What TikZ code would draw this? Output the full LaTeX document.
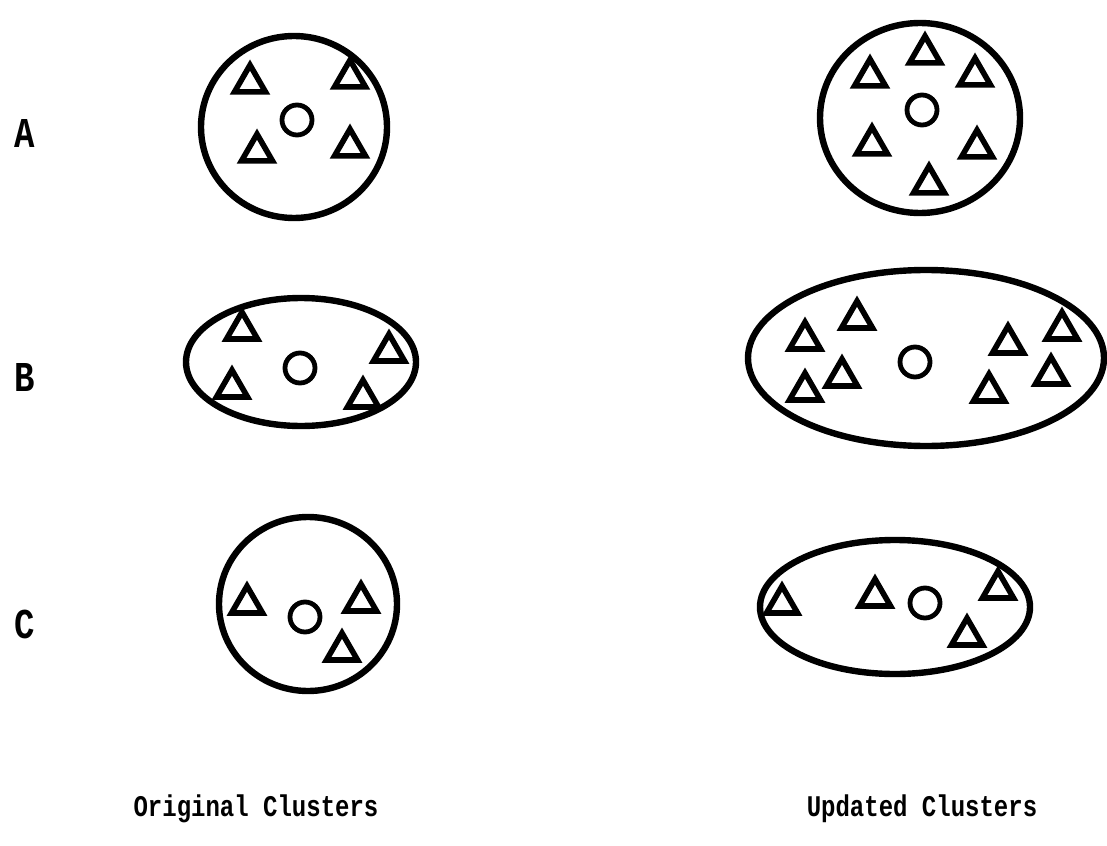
\documentclass[tikz,border=0pt]{standalone}
\usepackage{fontspec}
\setmonofont{Liberation Mono}
\usetikzlibrary{shapes.geometric}
\tikzset{
  clus/.style={draw, ellipse, line width=3.2pt, inner sep=0pt},
  tri/.style={draw, regular polygon, regular polygon sides=3, line width=2.8pt, minimum size=17.9pt, inner sep=0pt},
  cent/.style={draw, circle, line width=2.4pt, minimum size=15pt, inner sep=0pt},
  rowlab/.style={font=\ttfamily\bfseries\fontsize{17}{17}\selectfont, inner sep=0pt},
  caption/.style={font=\ttfamily\bfseries\fontsize{12}{12}\selectfont, anchor=base},
}
\newcommand{\tall}[1]{\scalebox{1}[1.25]{#1}}

\begin{document}
\begin{tikzpicture}[x=0.5pt, y=-0.5pt]
  \useasboundingbox (0,0) rectangle (1107,845);

  % row labels
  \node[rowlab] (labA) at (25,134) {\tall{A}};
  \node[rowlab] (labB) at (25,377) {\tall{B}};
  \node[rowlab] (labC) at (25,624) {\tall{C}};

  % original clusters
  \node[clus, minimum width=93pt, minimum height=91pt] (oA) at (294,127) {};
  \node[cent] (oAc) at (297,120) {};
  \foreach \p [count=\i] in {(250,83),(350,78),(257,152),(350,147)}
    \node[tri] (oAt\i) at \p {};

  \node[clus, minimum width=115pt, minimum height=64pt] (oB) at (301,362) {};
  \node[cent] (oBc) at (300,368) {};
  \foreach \p [count=\i] in {(242,330),(232,388),(389,352),(363,398)}
    \node[tri] (oBt\i) at \p {};

  \node[clus, minimum width=89pt, minimum height=87pt] (oC) at (308,604) {};
  \node[cent] (oCc) at (305,617) {};
  \foreach \p [count=\i] in {(247,604),(361,602),(342,651)}
    \node[tri] (oCt\i) at \p {};

  % updated clusters
  \node[clus, minimum width=100pt, minimum height=95pt] (uA) at (920,118) {};
  \node[cent] (uAc) at (922,110) {};
  \foreach \p [count=\i] in {(925,54),(870,77),(975,76),(872,145),(977,148),(929,184)}
    \node[tri] (uAt\i) at \p {};

  \node[clus, minimum width=178pt, minimum height=88pt] (uB) at (926,358) {};
  \node[cent] (uBc) at (915,362) {};
  \foreach \p [count=\i] in {(805,340),(857,319),(842,377),(805,391),(1008,344),(1062,330),(1051,375),(989,392)}
    \node[tri] (uBt\i) at \p {};

  \node[clus, minimum width=135pt, minimum height=67pt] (uC) at (895,607) {};
  \node[cent] (uCc) at (925,603) {};
  \foreach \p [count=\i] in {(782,604),(875,597),(998,589),(967,636)}
    \node[tri] (uCt\i) at \p {};

  % captions
  \node[caption] (capO) at (256,816) {\tall{Original Clusters}};
  \node[caption] (capU) at (922,816) {\tall{Updated Clusters}};
\end{tikzpicture}
\end{document}
